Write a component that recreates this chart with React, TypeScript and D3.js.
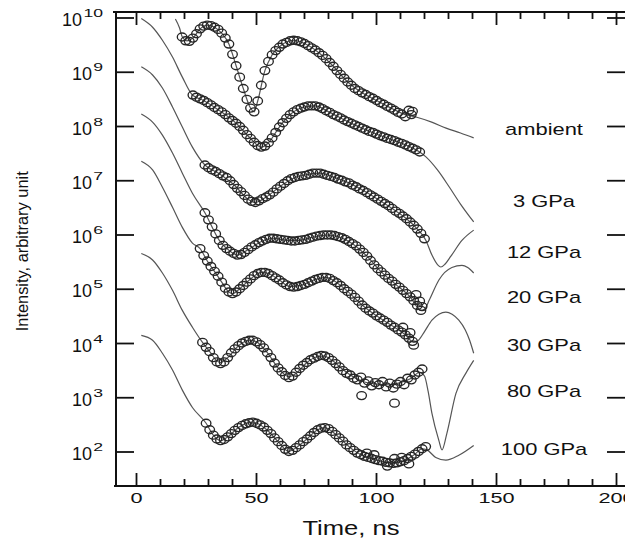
import React from "react";
import * as d3 from "d3";

type P = [number, number]; // [time ns, log10 intensity]

const seriesNames = ["ambient", "3 GPa", "12 GPa", "20 GPa", "30 GPa", "80 GPa", "100 GPa"];
// baseline levels (log10) for the right-hand labels
const labelExp = [7.84, 6.52, 5.58, 4.75, 3.86, 3.01, 1.95];

const xMajor = [0, 50, 100, 150, 200];
const xMinor = [10, 20, 30, 40, 60, 70, 80, 90, 110, 120, 130, 140, 160, 170, 180, 190];
const yDecades = [2, 3, 4, 5, 6, 7, 8, 9, 10];

const ambientData: P[] = [[19,9.65],[20.5,9.58],[22,9.57],[23.5,9.63],[25,9.71],[26.5,9.8],[28,9.85],[29.5,9.87],[31,9.86],[32.5,9.83],[34,9.79],[35.5,9.72],[37,9.63],[38.5,9.52],[40,9.33],[41.5,9.12],[43,8.91],[44.5,8.7],[46,8.5],[47.5,8.34],[49,8.27],[50.5,8.47],[52,8.76],[53.5,9.03],[55,9.2],[56.5,9.32],[58,9.4],[59.5,9.46],[61,9.52],[62.5,9.55],[64,9.58],[65.5,9.59],[67,9.58],[68.5,9.56],[70,9.53],[71.5,9.49],[73,9.45],[74.5,9.41],[76,9.36],[77.5,9.31],[79,9.25],[80.5,9.18],[82,9.11],[83.5,9.03],[85,8.96],[86.5,8.89],[88,8.82],[89.5,8.76],[91,8.7],[92.5,8.66],[94,8.62],[95.5,8.59],[97,8.55],[98.5,8.52],[100,8.48],[101.5,8.44],[103,8.41],[104.5,8.37],[106,8.34],[107.5,8.3],[109,8.26],[110.5,8.23],[112,8.18],[113.5,8.3],[114.5,8.22],[115,8.28]];
const ambientFit: P[] = [[16.2,9.98],[17.9,9.82],[19.1,9.65],[21,9.58],[23.5,9.63],[26.5,9.8],[29.5,9.87],[32.5,9.83],[35.5,9.72],[38.5,9.52],[41.5,9.12],[44.5,8.7],[47.5,8.34],[49,8.27],[50.5,8.47],[53.5,9.03],[56.5,9.32],[61,9.52],[65.5,9.59],[70,9.53],[76,9.36],[82,9.11],[88,8.82],[94,8.62],[100,8.48],[106,8.34],[112,8.22],[116.8,8.17],[123,8.08],[129,7.97],[135,7.88],[140.5,7.79]];

const gpa3Data: P[] = [[23.5,8.58],[25,8.54],[26.5,8.51],[28,8.48],[29.5,8.44],[31,8.4],[32.5,8.35],[34,8.31],[35.5,8.27],[37,8.22],[38.5,8.16],[40,8.11],[41.5,8.06],[43,8.0],[44.5,7.93],[46,7.85],[47.5,7.78],[49,7.71],[50.5,7.65],[52,7.62],[53.5,7.64],[55,7.7],[56.5,7.79],[58,7.89],[59.5,7.99],[61,8.07],[62.5,8.15],[64,8.22],[65.5,8.27],[67,8.31],[68.5,8.34],[70,8.36],[71.5,8.38],[73,8.38],[74.5,8.38],[76,8.36],[77.5,8.33],[79,8.29],[80.5,8.26],[82,8.22],[83.5,8.19],[85,8.16],[86.5,8.12],[88,8.09],[89.5,8.06],[91,8.03],[92.5,8.0],[94,7.97],[95.5,7.94],[97,7.91],[98.5,7.89],[100,7.86],[101.5,7.83],[103,7.81],[104.5,7.78],[106,7.76],[107.5,7.74],[109,7.71],[110.5,7.69],[112,7.66],[113.5,7.63],[115,7.6],[116.5,7.57],[118,7.53]];
const gpa3Fit: P[] = [[2,9.99],[6.7,9.83],[10.8,9.59],[15,9.28],[19.1,8.91],[23.3,8.58],[28,8.48],[34,8.31],[41.5,8.06],[47.5,7.78],[52,7.62],[55,7.7],[59.5,7.99],[64,8.22],[70,8.36],[74.5,8.38],[80.5,8.26],[88,8.09],[95.5,7.94],[103,7.81],[110.5,7.69],[118,7.53],[120.6,7.44],[125.4,7.2],[130.4,6.88],[135,6.57],[140.5,6.24]];

const gpa12Data: P[] = [[28.5,7.29],[30,7.24],[31.5,7.2],[33,7.17],[34.5,7.13],[36,7.09],[37.5,7.06],[39,7.0],[40.5,6.93],[42,6.86],[43.5,6.8],[45,6.73],[46.5,6.66],[48,6.62],[49.5,6.6],[51,6.63],[52.5,6.67],[54,6.7],[55.5,6.74],[57,6.79],[58.5,6.85],[60,6.9],[61.5,6.95],[63,7.0],[64.5,7.04],[66,7.06],[67.5,7.08],[69,7.09],[70.5,7.1],[72,7.12],[73.5,7.14],[75,7.14],[76.5,7.14],[78,7.12],[79.5,7.1],[81,7.08],[82.5,7.06],[84,7.03],[85.5,7.01],[87,6.98],[88.5,6.96],[90,6.92],[91.5,6.89],[93,6.85],[94.5,6.82],[96,6.78],[97.5,6.74],[99,6.7],[100.5,6.66],[102,6.62],[103.5,6.58],[105,6.54],[106.5,6.49],[108,6.44],[109.5,6.4],[111,6.35],[112.5,6.3],[114,6.24],[115.5,6.18],[117,6.11],[118.5,6.03],[120,5.93]];
const gpa12Fit: P[] = [[2,9.1],[6.7,8.95],[10.8,8.71],[15,8.36],[19.1,7.99],[23.3,7.62],[28.5,7.29],[34.5,7.13],[40.5,6.93],[46.5,6.66],[49.5,6.6],[54,6.7],[60,6.9],[66,7.06],[72,7.12],[76.5,7.14],[82.5,7.06],[88.5,6.96],[94.5,6.82],[100.5,6.66],[106.5,6.49],[112.5,6.3],[117,6.11],[120.6,5.9],[123.1,5.63],[125.5,5.45],[126.8,5.41],[128.5,5.46],[131,5.61],[135.6,5.9],[140.5,6.09]];

const gpa20Data: P[] = [[28.5,6.41],[30,6.28],[31.5,6.15],[33,6.02],[34.5,5.9],[36,5.81],[37.5,5.75],[39,5.7],[40.5,5.66],[42,5.63],[43.5,5.64],[45,5.68],[46.5,5.73],[48,5.78],[49.5,5.82],[51,5.86],[52.5,5.89],[54,5.92],[55.5,5.94],[57,5.94],[58.5,5.93],[60,5.92],[61.5,5.91],[63,5.9],[64.5,5.89],[66,5.89],[67.5,5.9],[69,5.91],[70.5,5.92],[72,5.94],[73.5,5.96],[75,5.98],[76.5,5.99],[78,6.0],[79.5,6.0],[81,6.0],[82.5,5.99],[84,5.97],[85.5,5.95],[87,5.92],[88.5,5.88],[90,5.84],[91.5,5.8],[93,5.74],[94.5,5.68],[96,5.61],[97.5,5.53],[99,5.45],[100.5,5.38],[102,5.32],[103.5,5.26],[105,5.2],[106.5,5.15],[108,5.09],[109.5,5.04],[111,4.98],[112.5,4.92],[114,4.86],[115.5,4.79],[116.5,4.9],[117,4.7],[118,4.78],[118.5,4.61],[119,4.68]];
const gpa20Fit: P[] = [[2,8.23],[6.7,8.08],[10.8,7.84],[15,7.51],[19.1,7.14],[23.3,6.77],[28.5,6.41],[34.5,5.9],[39,5.7],[42,5.63],[46.5,5.73],[52.5,5.89],[57,5.94],[63,5.9],[67.5,5.9],[73.5,5.96],[79.5,6.0],[84,5.97],[90,5.84],[96,5.61],[102,5.32],[108,5.09],[114,4.86],[118.5,4.61],[120,4.63],[122,4.8],[126,5.17],[131.4,5.4],[135.6,5.44],[138,5.4],[140.5,5.3]];

const gpa30Data: P[] = [[26.5,5.75],[28,5.62],[29.5,5.52],[31,5.42],[32.5,5.33],[34,5.24],[35.5,5.13],[37,5.02],[38.5,4.95],[40,4.92],[41.5,4.95],[43,5.01],[44.5,5.07],[46,5.13],[47.5,5.19],[49,5.25],[50.5,5.29],[52,5.31],[53.5,5.31],[55,5.29],[56.5,5.25],[58,5.21],[59.5,5.17],[61,5.12],[62.5,5.08],[64,5.05],[65.5,5.04],[67,5.05],[68.5,5.07],[70,5.09],[71.5,5.12],[73,5.15],[74.5,5.18],[76,5.2],[77.5,5.22],[79,5.22],[80.5,5.2],[82,5.16],[83.5,5.12],[85,5.07],[86.5,5.01],[88,4.96],[89.5,4.91],[91,4.85],[92.5,4.78],[94,4.71],[95.5,4.65],[97,4.6],[98.5,4.56],[100,4.51],[101.5,4.47],[103,4.43],[104.5,4.39],[106,4.34],[107.5,4.3],[109,4.25],[110.5,4.21],[111,4.3],[112,4.16],[113.5,4.1],[114,4.2],[115,4.04],[115.5,3.97]];
const gpa30Fit: P[] = [[2,7.36],[6.7,7.2],[10.8,6.88],[15,6.51],[19.1,6.14],[23.3,5.85],[26.5,5.75],[29.5,5.52],[32.5,5.33],[35.5,5.13],[38.5,4.95],[40,4.92],[43,5.01],[47.5,5.19],[52,5.31],[55,5.29],[59.5,5.17],[64,5.05],[68.5,5.07],[74.5,5.18],[79,5.22],[83.5,5.12],[88,4.96],[94,4.71],[100,4.51],[106,4.34],[112,4.16],[115.6,4.02],[117.5,4.06],[120,4.22],[123.1,4.43],[126,4.54],[128.9,4.58],[131.5,4.54],[134.3,4.43],[137,4.25],[138.8,4.06],[140.5,3.82]];

const gpa80Data: P[] = [[27.5,4.02],[29,3.93],[30.5,3.85],[32,3.74],[33.5,3.66],[35,3.63],[36.5,3.66],[38,3.74],[39.5,3.83],[41,3.9],[42.5,3.96],[44,4.01],[45.5,4.04],[47,4.06],[48.5,4.06],[50,4.03],[51.5,3.98],[53,3.92],[54.5,3.83],[56,3.74],[57.5,3.64],[59,3.55],[60.5,3.48],[62,3.41],[63.5,3.37],[65,3.4],[66.5,3.47],[68,3.54],[69.5,3.6],[71,3.65],[72.5,3.7],[74,3.73],[75.5,3.76],[77,3.78],[78.5,3.77],[80,3.74],[81.5,3.69],[83,3.63],[84.5,3.57],[86,3.5],[87.5,3.45],[89,3.42],[90.5,3.36],[92,3.33],[93.5,3.38],[93.8,3.04],[95,3.27],[96.5,3.31],[98,3.22],[99.5,3.28],[101,3.24],[102.5,3.3],[104,3.2],[105.5,3.27],[107,3.18],[107.5,2.9],[108.5,3.25],[110,3.3],[111.5,3.24],[113,3.36],[114.5,3.33],[116,3.42],[117.5,3.47],[119,3.53]];
const gpa80Fit: P[] = [[2,5.66],[6.7,5.54],[10.8,5.3],[15,4.98],[19.1,4.61],[23.3,4.3],[27.5,4.02],[30.5,3.85],[33.5,3.68],[35,3.65],[38,3.74],[42.5,3.96],[47,4.06],[50,4.03],[54.5,3.83],[59,3.55],[63.5,3.39],[66.5,3.45],[71,3.65],[75.5,3.76],[78,3.77],[81.5,3.69],[86,3.52],[90.5,3.38],[95,3.29],[100,3.25],[105,3.24],[110,3.28],[114.5,3.36],[118,3.47],[120,3.4],[121.5,3.12],[123.1,2.71],[126,2.21],[127.3,2.04],[129.3,2.34],[133.1,3.08],[137.2,3.45],[140.5,3.69]];

const gpa100Data: P[] = [[29,2.53],[30.5,2.41],[32,2.31],[33.5,2.24],[35,2.21],[36.5,2.23],[38,2.28],[39.5,2.34],[41,2.4],[42.5,2.45],[44,2.49],[45.5,2.52],[47,2.54],[48.5,2.55],[50,2.53],[51.5,2.5],[53,2.46],[54.5,2.4],[56,2.34],[57.5,2.26],[59,2.19],[60.5,2.12],[62,2.05],[63.5,2.01],[65,2.03],[66.5,2.08],[68,2.13],[69.5,2.19],[71,2.24],[72.5,2.3],[74,2.36],[75.5,2.41],[77,2.44],[78.5,2.45],[80,2.43],[81.5,2.38],[83,2.32],[84.5,2.26],[86,2.2],[87.5,2.13],[89,2.08],[90.5,2.03],[92,1.98],[93.5,1.95],[95,1.92],[96,1.98],[96.5,1.9],[98,1.88],[99,1.95],[99.5,1.86],[101,1.84],[102.5,1.83],[104,1.81],[104.5,1.74],[105.5,1.8],[107,1.79],[107.5,1.88],[108.5,1.8],[110,1.82],[110.5,1.9],[111.5,1.84],[113,1.88],[113.5,1.78],[114.5,1.92],[116,1.96],[117.5,2.01],[119,2.06],[120.5,2.1]];
const gpa100Fit: P[] = [[2,4.15],[6.7,4.06],[10.8,3.82],[15,3.51],[19.1,3.14],[23.3,2.82],[29,2.53],[32,2.31],[35,2.21],[38,2.28],[42.5,2.45],[47,2.54],[50,2.53],[54.5,2.4],[59,2.19],[63.5,2.01],[66.5,2.08],[71,2.24],[75.5,2.41],[78.5,2.45],[81.5,2.38],[86,2.2],[90.5,2.03],[95,1.92],[101,1.84],[107,1.79],[111.5,1.84],[116,1.96],[119,2.06],[121,2.04],[124.7,1.9],[128.9,1.85],[134.3,1.94],[140.5,2.12]];

const allData = [ambientData, gpa3Data, gpa12Data, gpa20Data, gpa30Data, gpa80Data, gpa100Data];
const allFits = [ambientFit, gpa3Fit, gpa12Fit, gpa20Fit, gpa30Fit, gpa80Fit, gpa100Fit];

const W = 625;
const H = 538;
const FONT = "'Liberation Sans', Arial, Helvetica, sans-serif";

export default function App() {
  const x = d3.scaleLinear().domain([0, 200]).range([136.5, 616.5]);
  const y = d3.scaleLog().domain([1e2, 1e10]).range([452, 18]);
  const left = 116, right = 626, top = 12, bottom = 486;
  const yv = (e: number) => y(Math.pow(10, e));
  const line = d3.line<P>().x((d) => x(d[0])).y((d) => yv(d[1])).curve(d3.curveMonotoneX);

  return (
    <svg width={W} height={H} style={{ position: "absolute", left: 0, top: 0, background: "#fff" }} fontFamily={FONT}>
      <rect x={0} y={0} width={W} height={H} fill="#fff" />
      {/* fits */}
      {allFits.map((f, i) => (
        <path key={"f" + i} d={line(f) || ""} fill="none" stroke="#555" strokeWidth={1.2} />
      ))}
      {/* data */}
      {allData.map((s, i) => (
        <g key={"d" + i}>
          {s.map((d, j) => (
            <ellipse key={j} cx={x(d[0])} cy={yv(d[1])} rx={4.8} ry={4} fill="none" stroke="#262626" strokeWidth={1.35} />
          ))}
        </g>
      ))}
      {/* frame */}
      <g stroke="#111" strokeWidth={2} fill="none">
        <line x1={113} x2={right} y1={top} y2={top} />
        <line x1={114} x2={right} y1={bottom} y2={bottom} />
        <line x1={left} x2={left} y1={top} y2={bottom} />
        <line x1={right} x2={right} y1={top} y2={bottom} />
      </g>
      {/* ticks */}
      <g stroke="#111" strokeWidth={1.8}>
        {xMajor.map((t) => (
          <g key={"xM" + t}>
            <line x1={x(t)} x2={x(t)} y1={bottom} y2={bottom - 13} />
            <line x1={x(t)} x2={x(t)} y1={top} y2={top + 13} />
          </g>
        ))}
        {xMinor.map((t) => (
          <g key={"xm" + t}>
            <line x1={x(t)} x2={x(t)} y1={bottom} y2={bottom - 7} />
            <line x1={x(t)} x2={x(t)} y1={top} y2={top + 7} />
          </g>
        ))}
        {yDecades.map((e) => (
          <g key={"yt" + e}>
            <line x1={left} x2={left + 18} y1={yv(e)} y2={yv(e)} />
            <line x1={right} x2={right - 19} y1={yv(e)} y2={yv(e)} />
          </g>
        ))}
      </g>
      {/* x tick labels */}
      {xMajor.map((t) => (
        <text key={"xl" + t} transform={`translate(${x(t)},503) scale(1.55,1)`} textAnchor="middle" fontSize={14} fill="#111">
          {t}
        </text>
      ))}
      {/* y tick labels */}
      {yDecades.map((e) => {
        const sup = String(e);
        const supW = sup.length * 10;
        const endX = 103;
        return (
          <g key={"yl" + e} fill="#111">
            <text x={endX - supW - 1} y={yv(e) + 8} textAnchor="end" fontSize={18}>10</text>
            <text transform={`translate(${endX},${yv(e) - 1}) scale(1.6,1)`} textAnchor="end" fontSize={11}>{sup}</text>
          </g>
        );
      })}
      {/* axis titles */}
      <text transform={`translate(351,535) scale(1.22,1)`} textAnchor="middle" fontSize={21} fill="#111">Time, ns</text>
      <text transform={`translate(28,${yv(5.7)}) rotate(-90)`} textAnchor="middle" fontSize={16} fill="#111" textLength={160} lengthAdjust="spacingAndGlyphs">
        Intensity, arbitrary unit
      </text>
      {/* series labels */}
      {seriesNames.map((n, i) => (
        <text key={n} transform={`translate(544,${yv(labelExp[i])}) scale(1.37,1)`} textAnchor="middle" fontSize={16} fill="#111">
          {n}
        </text>
      ))}
    </svg>
  );
}
